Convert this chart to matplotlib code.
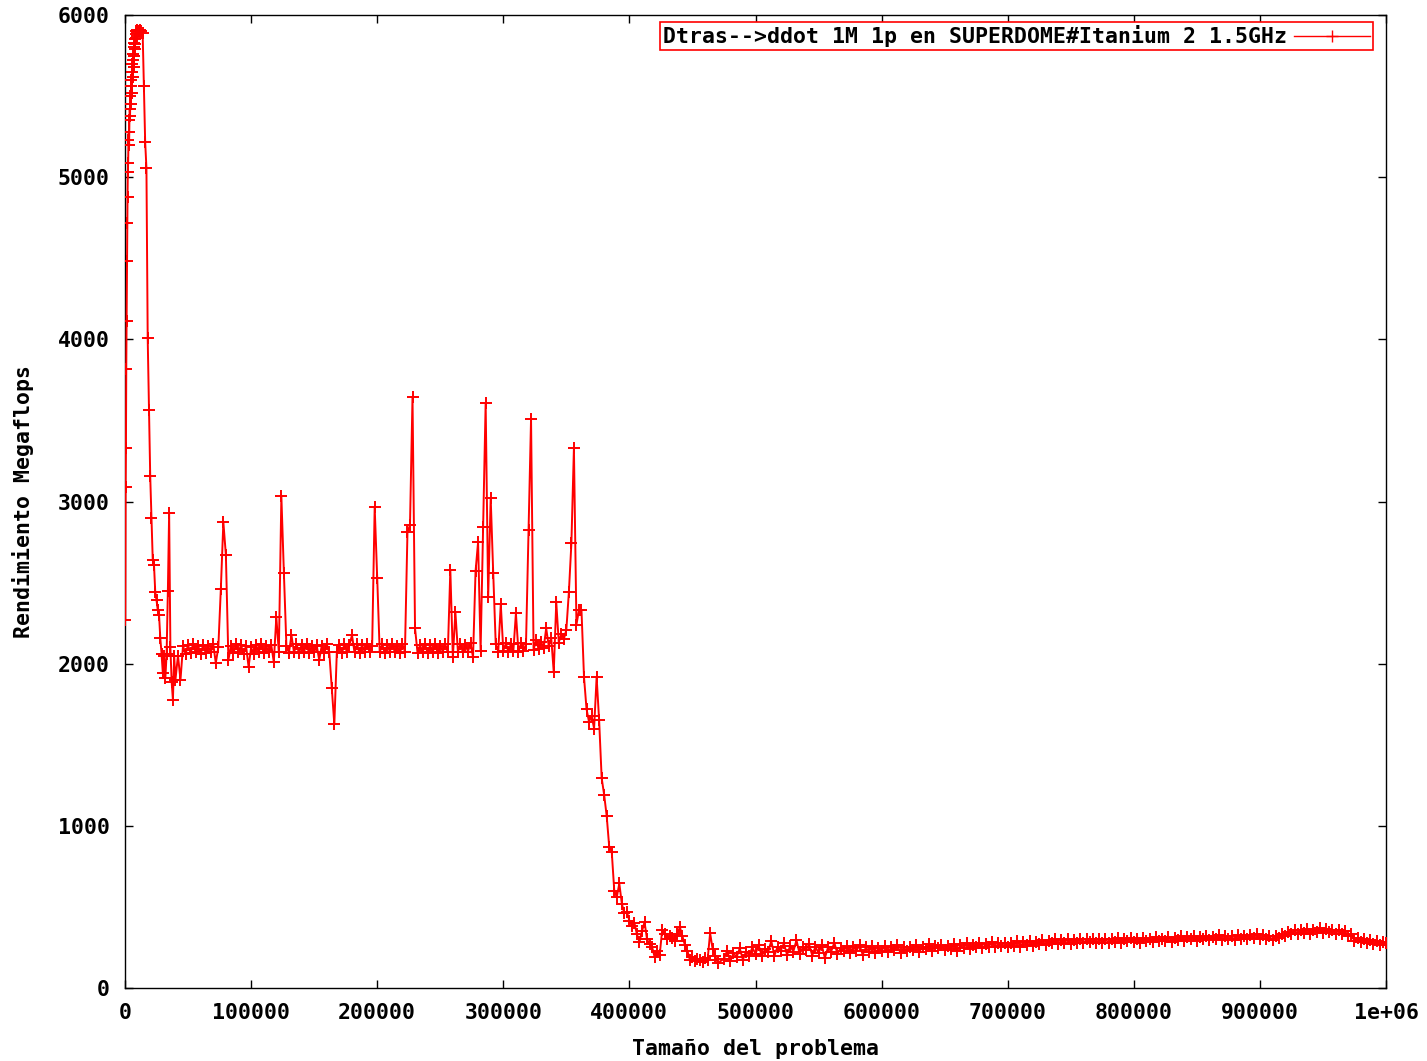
#!/usr/bin/env python3
"""ddot 1M 1p en SUPERDOME (Itanium 2 1.5GHz): rendimiento vs tamaño del problema."""
import numpy as np
import matplotlib
matplotlib.use("Agg")
import matplotlib.pyplot as plt

OUT_PNG = "out.png"

# problem sizes are sampled on a regular grid per segment: (start, step)
GRID_A0 = (250, 250)
GRID_A1 = (11000, 1000)
GRID_B = (42000, 2000)
GRID_C = (362000, 2000)
GRID_D = (475000, 2500)

# Megaflops, one list per segment
MFLOPS_A0 = [
    2270, 3090, 3330, 3820, 4110, 4480, 4720, 4880, 5030, 5090,
    5230, 5280, 5200, 5350, 5420, 5380, 5500, 5450, 5560, 5600,
    5520, 5650, 5700, 5620, 5720, 5760, 5680, 5800, 5750, 5830,
    5790, 5850, 5820, 5880, 5860, 5900, 5870, 5910, 5890, 5900,
]
MFLOPS_A1 = [
    5900, 5910, 5900, 5890, 5560, 5216, 5056, 4007, 3563, 3156,
    2898, 2640, 2608, 2440, 2390, 2330, 2300, 2157, 2060, 1942,
    2050, 1911, 2060, 2450, 2930, 2100, 1887, 1776, 2050, 1900,
]
MFLOPS_B = [
    2050, 1900, 2110, 2060, 2115, 2065, 2120, 2070, 2110, 2060,
    2115, 2065, 2110, 2070, 2120, 2004, 2100, 2460, 2873, 2670,
    2022, 2110, 2065, 2120, 2070, 2115, 2060, 2110, 1980, 2100,
    2060, 2115, 2070, 2120, 2065, 2110, 2070, 2115, 2010, 2287,
    2070, 3033, 2560, 2110, 2065, 2176, 2070, 2120, 2065, 2115,
    2075, 2120, 2065, 2110, 2070, 2115, 2022, 2110, 2065, 2120,
    2070, 1850, 1625, 2075, 2115, 2065, 2120, 2070, 2115, 2176,
    2070, 2120, 2065, 2115, 2075, 2120, 2070, 2110, 2966, 2530,
    2070, 2120, 2065, 2115, 2075, 2120, 2070, 2110, 2065, 2120,
    2075, 2811, 2855, 3644, 2219, 2065, 2115, 2070, 2120, 2065,
    2115, 2070, 2120, 2065, 2110, 2075, 2120, 2070, 2577, 2040,
    2318, 2075, 2120, 2070, 2115, 2075, 2125, 2040, 2571, 2750,
    2080, 2842, 3607, 2410, 3021, 2560, 2120, 2075, 2367, 2080,
    2125, 2075, 2120, 2080, 2311, 2075, 2125, 2080, 2120, 2824,
    3508, 2085, 2145, 2090, 2135, 2095, 2219, 2110, 2160, 1948,
    2380, 2130, 2185, 2150, 2210, 2441, 2743, 3329, 2240, 2330,
]
MFLOPS_C = [
    2330, 1917, 1720, 1640, 1680, 1600, 1917, 1650, 1295, 1190,
    1060, 870, 840, 600, 560, 645, 520, 460, 470, 415,
    380, 400, 330, 284, 350, 407, 300, 270, 253, 191,
    230, 203, 358, 330, 300, 320, 308, 290, 330, 376,
    320, 265, 230, 173, 190, 165, 180, 173, 160, 185,
    173, 339, 240, 200, 154,
]
MFLOPS_D = [
    180, 230, 165, 215, 190, 245, 175, 225, 200, 250,
    210, 265, 195, 240, 220, 290, 200, 255, 230, 275,
    205, 260, 225, 295, 210, 250, 235, 270, 200, 255,
    215, 265, 185, 250, 225, 280, 210, 245, 230, 260,
    215, 255, 230, 265, 205, 250, 225, 260, 215, 245,
    230, 260, 220, 250, 235, 265, 215, 250, 230, 255,
    235, 265, 225, 255, 240, 270, 230, 260, 245, 265,
    235, 260, 240, 270, 230, 265, 245, 275, 240, 265,
    250, 275, 245, 270, 255, 285, 250, 275, 260, 280,
    255, 280, 260, 290, 255, 285, 265, 290, 260, 285,
    270, 295, 265, 290, 275, 300, 270, 295, 280, 300,
    270, 295, 280, 305, 275, 300, 285, 305, 275, 300,
    280, 305, 275, 300, 285, 310, 280, 300, 290, 310,
    285, 305, 280, 310, 290, 305, 285, 315, 290, 305,
    290, 315, 285, 310, 295, 320, 290, 315, 300, 320,
    290, 315, 300, 320, 295, 315, 300, 325, 295, 320,
    300, 320, 295, 325, 305, 320, 300, 325, 310, 330,
    300, 325, 305, 320, 295, 320, 310, 330, 320, 345,
    330, 355, 335, 360, 340, 365, 335, 360, 345, 370,
    340, 365, 345, 360, 335, 355, 330, 350, 320, 330,
    290, 310, 285, 300, 275, 295, 270, 290, 265, 285, 275,
]

XTICKS = [0, 100000, 200000, 300000, 400000, 500000, 600000, 700000, 800000, 900000, 1000000]
XTICK_LABELS = ["0", "100000", "200000", "300000", "400000", "500000",
                "600000", "700000", "800000", "900000", "1e+06"]
YTICKS = [0, 1000, 2000, 3000, 4000, 5000, 6000]

LABEL = "Dtras-->ddot 1M 1p en SUPERDOME#Itanium 2 1.5GHz"
XLABEL = "Tamaño del problema"
YLABEL = "Rendimiento Megaflops"
RED = "#ff0000"
FS = 15.5


def grid(start_step, values):
    start, step = start_step
    return start + step * np.arange(len(values))


def main():
    plt.rcParams["font.family"] = ["DejaVu Sans Mono"]
    plt.rcParams["font.weight"] = "bold"

    x = np.concatenate([grid(GRID_A0, MFLOPS_A0), grid(GRID_A1, MFLOPS_A1),
                        grid(GRID_B, MFLOPS_B), grid(GRID_C, MFLOPS_C),
                        grid(GRID_D, MFLOPS_D)])
    y = np.concatenate([MFLOPS_A0, MFLOPS_A1, MFLOPS_B, MFLOPS_C, MFLOPS_D])

    W, H = 1427, 1061
    fig = plt.figure(figsize=(W / 100, H / 100), dpi=100, facecolor="white")
    ax = fig.add_axes([125 / W, 1 - 988 / H, (1386 - 125) / W, (988 - 15) / H])

    ax.plot(x, y, color=RED, linewidth=1.4, marker="+", markersize=8.5,
            markeredgewidth=1.4, label=LABEL, zorder=3)

    ax.set_xlim(0, 1000000)
    ax.set_ylim(0, 6000)
    ax.set_xticks(XTICKS)
    ax.set_xticklabels(XTICK_LABELS)
    ax.set_yticks(YTICKS)
    ax.tick_params(direction="in", length=6, width=1, top=True, right=True,
                   labelsize=FS, pad=11, colors="black")
    for s in ax.spines.values():
        s.set_linewidth(1.0)

    ax.set_xlabel(XLABEL, fontsize=FS, fontweight="bold", labelpad=11)
    ax.set_ylabel(YLABEL, fontsize=FS, fontweight="bold", labelpad=17)

    leg = ax.legend(loc="upper right", bbox_to_anchor=(1 - 13 / 1261, 1 - 7 / 973),
                    borderaxespad=0, markerfirst=False, fancybox=False,
                    framealpha=1, edgecolor=RED, handlelength=3.5,
                    handletextpad=0.35, borderpad=0.15, fontsize=FS)
    leg.get_frame().set_linewidth(1.2)
    for h in leg.legend_handles:
        h.set_linewidth(1.0)
        h.set_markeredgewidth(1.0)

    fig.savefig(OUT_PNG, dpi=100, facecolor="white")
    plt.close(fig)


if __name__ == "__main__":
    main()
